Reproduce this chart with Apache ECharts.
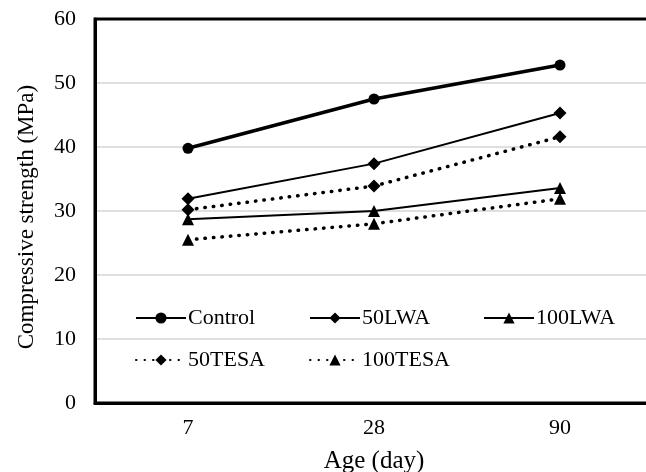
<!DOCTYPE html>
<html>
<head>
<meta charset="utf-8">
<script src="https://cdn.jsdelivr.net/npm/echarts@6/dist/echarts.min.js"></script>
<style>
  html, body { margin: 0; padding: 0; background: #fff; }
  #chart { width: 646px; height: 472px; }
</style>
</head>
<body>
<div id="chart"></div>
<script>
// data
const ages = ['7', '28', '90'];
const control = [39.8, 47.5, 52.8];
const lwa50 = [31.9, 37.4, 45.3];
const lwa100 = [28.7, 30.0, 33.6];
const tesa50 = [30.2, 33.9, 41.6];
const tesa100 = [25.5, 28.0, 31.9];

const font = 'Liberation Serif';
const dots = [0.5, 8];

function mkSeries(name, data, symbol, size, width, dotted) {
    return {
        name: name,
        type: 'line',
        data: data,
        symbol: symbol,
        symbolSize: size,
        showSymbol: true,
        itemStyle: { color: '#000' },
        lineStyle: {
            color: '#000',
            width: width,
            type: dotted ? dots : 'solid',
            cap: dotted ? 'round' : 'butt'
        },
        emphasis: { disabled: true },
        animation: false
    };
}

function mkLegend(name, left, top) {
    return {
        data: [name],
        left: left,
        top: top,
        padding: 0,
        itemWidth: 50,
        itemHeight: 14,
        selectedMode: false,
        textStyle: { fontFamily: font, fontSize: 22, color: '#000', padding: [0, 0, 0, -3] }
    };
}

const chart = echarts.init(document.getElementById('chart'));
chart.setOption({
    backgroundColor: '#fff',
    animation: false,
    grid: {
        left: 95, top: 19, bottom: 69, width: 558,
        outerBoundsMode: 'none',
        show: true, borderColor: '#000', borderWidth: 3
    },
    legend: [
        mkLegend('Control', 135, 307),
        mkLegend('50LWA', 309, 307),
        mkLegend('100LWA', 483, 307),
        mkLegend('50TESA', 135, 349),
        mkLegend('100TESA', 309, 349)
    ],
    xAxis: {
        type: 'category',
        data: ages,
        boundaryGap: true,
        name: 'Age (day)',
        nameLocation: 'middle',
        nameGap: 46,
        nameTextStyle: { fontFamily: font, fontSize: 25, color: '#000' },
        axisLine: { lineStyle: { color: '#000', width: 3 } },
        axisTick: { show: false },
        axisLabel: { fontFamily: font, fontSize: 22, color: '#000', margin: 14 }
    },
    yAxis: {
        type: 'value',
        min: 0, max: 60, interval: 10,
        name: 'Compressive strength (MPa)',
        nameLocation: 'middle',
        nameGap: 57,
        nameTextStyle: { fontFamily: font, fontSize: 23, color: '#000', padding: [0, 0, 0, -12] },
        axisLine: { show: true, lineStyle: { color: '#000', width: 3 } },
        axisTick: { show: false },
        axisLabel: { fontFamily: font, fontSize: 22, color: '#000', margin: 19 },
        splitLine: {
            showMinLine: false,
            showMaxLine: false,
            lineStyle: { color: '#d4d4d4', width: 1.5 }
        }
    },
    series: [
        mkSeries('Control', control, 'circle', 11, 3.5, false),
        mkSeries('50LWA', lwa50, 'diamond', 13, 2, false),
        mkSeries('100LWA', lwa100, 'triangle', 12, 2, false),
        mkSeries('50TESA', tesa50, 'diamond', 13, 3.5, true),
        mkSeries('100TESA', tesa100, 'triangle', 12, 3.5, true)
    ]
});
</script>
</body>
</html>
